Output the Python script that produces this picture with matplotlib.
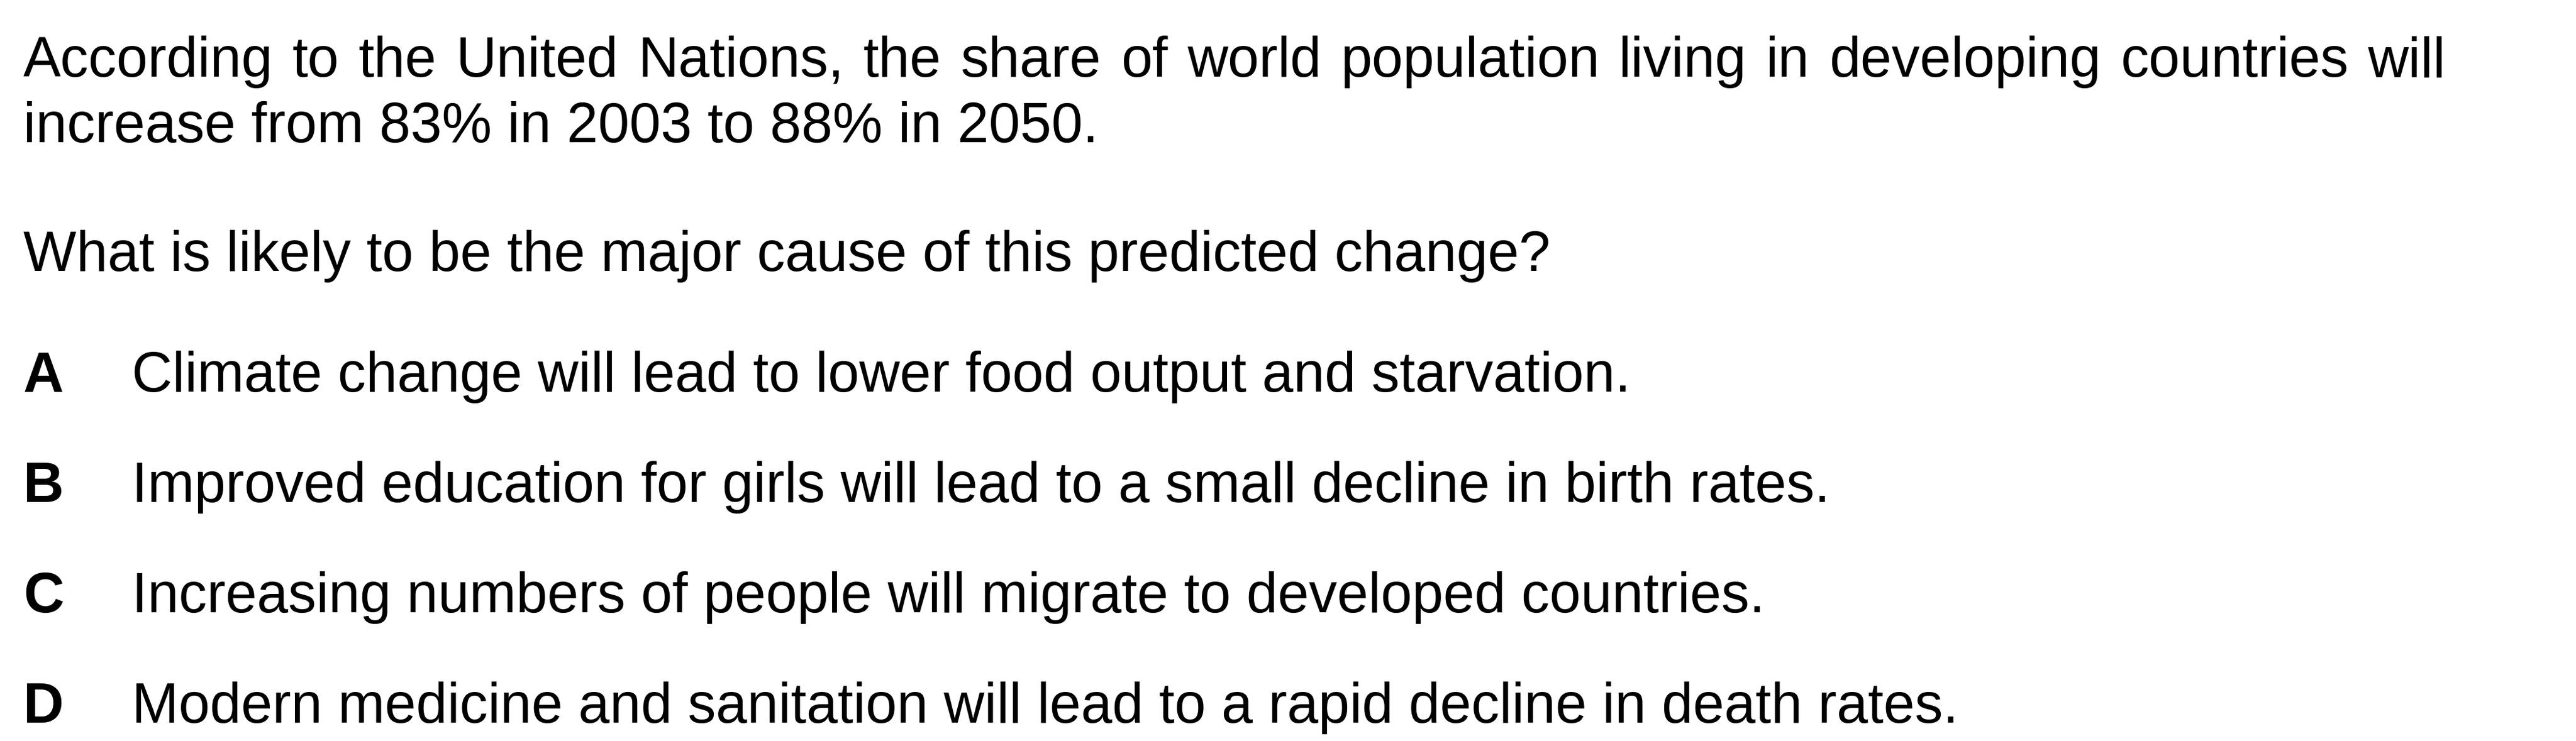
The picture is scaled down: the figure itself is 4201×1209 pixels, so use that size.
"""Multiple-choice question card rendered as figure text."""

import matplotlib

matplotlib.use("Agg")

import matplotlib.pyplot as plt

STEM_LINES = [
    "According to the United Nations, the share of world population living in developing countries will",
    "increase from 83% in 2003 to 88% in 2050.",
]
QUESTION = "What is likely to be the major cause of this predicted change?"
OPTION_KEYS = ["A", "B", "C", "D"]
OPTION_TEXTS = [
    "Climate change will lead to lower food output and starvation.",
    "Improved education for girls will lead to a small decline in birth rates.",
    "Increasing numbers of people will migrate to developed countries.",
    "Modern medicine and sanitation will lead to a rapid decline in death rates.",
]

W, H = 4201, 1209
DPI = 100
FONT = "Liberation Sans"
SIZE = 66
LEFT = 38
OPT_LEFT = 215
JUSTIFY_RIGHT = 3988


def px(x, y):
    # pixel position (from top-left) to figure fraction
    return x / W, 1 - y / H


def justified_line(fig, text, x0, x1, y, **kw):
    # place words one by one so the line spans x0..x1
    renderer = fig.canvas.get_renderer()
    words = text.split()
    artists = [fig.text(*px(x0, y), w, **kw) for w in words]
    widths = [a.get_window_extent(renderer).width for a in artists]
    gap = (x1 - x0 - sum(widths)) / (len(words) - 1)
    x = x0
    for a, w in zip(artists, widths):
        a.set_position(px(x, y))
        x += w + gap


fig = plt.figure(figsize=(W / DPI, H / DPI), dpi=DPI)
fig.patch.set_facecolor("white")

style = dict(fontsize=SIZE, family=FONT, va="baseline", ha="left", color="black")

justified_line(fig, STEM_LINES[0], LEFT, JUSTIFY_RIGHT, 125, **style)
fig.text(*px(LEFT, 232), STEM_LINES[1], **style)
fig.text(*px(LEFT, 442), QUESTION, **style)

for i, (key, text) in enumerate(zip(OPTION_KEYS, OPTION_TEXTS)):
    y = 639 + i * 180
    fig.text(*px(LEFT, y), key, weight="bold", **style)
    fig.text(*px(OPT_LEFT, y), text, **style)

fig.savefig("out.png", dpi=DPI, facecolor="white")
